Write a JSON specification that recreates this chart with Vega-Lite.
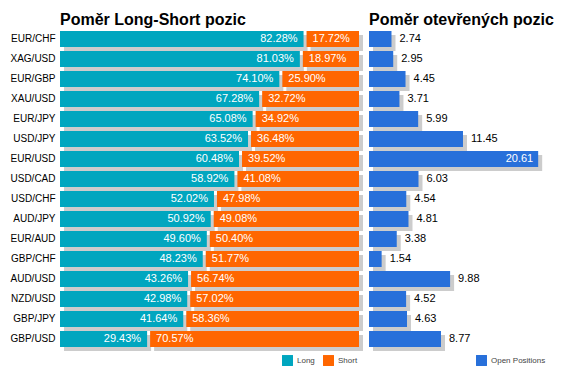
{
  "$schema": "https://vega.github.io/schema/vega-lite/v6.json",
  "padding": {"left": 9, "top": 12, "right": 0, "bottom": 0},
  "background": "white",
  "config": {
    "view": {"stroke": null},
    "font": "Liberation Sans",
    "title": {"font": "Liberation Sans", "fontSize": 16, "fontWeight": "bold", "anchor": "start", "frame": "group", "color": "#000000", "offset": 1},
    "legend": {"labelFont": "Liberation Sans", "labelFontSize": 8, "labelColor": "#444444", "symbolType": "square", "symbolSize": 120, "symbolStrokeWidth": 0, "symbolOpacity": 1, "columnPadding": 8, "direction": "horizontal", "orient": "none"}
  },
  "datasets": {
    "fx": [
      {"pair": "EUR/CHF", "long": 0.8228, "short": 0.1772, "open": 2.74},
      {"pair": "XAG/USD", "long": 0.8103, "short": 0.1897, "open": 2.95},
      {"pair": "EUR/GBP", "long": 0.7410, "short": 0.2590, "open": 4.45},
      {"pair": "XAU/USD", "long": 0.6728, "short": 0.3272, "open": 3.71},
      {"pair": "EUR/JPY", "long": 0.6508, "short": 0.3492, "open": 5.99},
      {"pair": "USD/JPY", "long": 0.6352, "short": 0.3648, "open": 11.45},
      {"pair": "EUR/USD", "long": 0.6048, "short": 0.3952, "open": 20.61},
      {"pair": "USD/CAD", "long": 0.5892, "short": 0.4108, "open": 6.03},
      {"pair": "USD/CHF", "long": 0.5202, "short": 0.4798, "open": 4.54},
      {"pair": "AUD/JPY", "long": 0.5092, "short": 0.4908, "open": 4.81},
      {"pair": "EUR/AUD", "long": 0.4960, "short": 0.5040, "open": 3.38},
      {"pair": "GBP/CHF", "long": 0.4823, "short": 0.5177, "open": 1.54},
      {"pair": "AUD/USD", "long": 0.4326, "short": 0.5674, "open": 9.88},
      {"pair": "NZD/USD", "long": 0.4298, "short": 0.5702, "open": 4.52},
      {"pair": "GBP/JPY", "long": 0.4164, "short": 0.5836, "open": 4.63},
      {"pair": "GBP/USD", "long": 0.2943, "short": 0.7057, "open": 8.77}
    ]
  },
  "spacing": 6,
  "resolve": {"scale": {"color": "independent", "x": "independent"}},
  "hconcat": [
    {
      "width": 296,
      "height": 320,
      "title": "Poměr Long-Short pozic",
      "data": {"name": "fx"},
      "encoding": {
        "y": {"field": "pair", "type": "nominal", "sort": null,
          "scale": {"paddingInner": 0.2, "paddingOuter": 0.1},
          "axis": {"title": null, "domain": false, "ticks": false, "labelFontSize": 10, "labelColor": "#000000", "labelPadding": 5}}
      },
      "layer": [
        {"mark": {"type": "bar", "color": "#cccccc", "xOffset": 4, "x2Offset": 4, "yOffset": 4, "y2Offset": 4},
         "encoding": {"x": {"field": "long", "type": "quantitative", "scale": {"domain": [0, 1], "nice": false}, "axis": null}}},
        {"mark": {"type": "bar", "color": "#cccccc", "xOffset": 7, "x2Offset": 7, "yOffset": 4, "y2Offset": 4},
         "encoding": {"x": {"field": "long", "type": "quantitative"}, "x2": {"datum": 1}}},
        {"mark": {"type": "bar"},
         "encoding": {"x": {"field": "long", "type": "quantitative"},
           "color": {"datum": "Long", "type": "nominal", "scale": {"domain": ["Long", "Short"], "range": ["#00A6BF", "#FF6600"]},
             "legend": {"title": null, "legendX": 222, "legendY": 326}}}},
        {"mark": {"type": "bar", "xOffset": 3, "x2Offset": 3},
         "encoding": {"x": {"field": "long", "type": "quantitative"}, "x2": {"datum": 1},
           "color": {"datum": "Short", "type": "nominal"}}},
        {"mark": {"type": "text", "align": "right", "dx": -6, "color": "white", "fontSize": 11},
         "encoding": {"x": {"field": "long", "type": "quantitative"}, "text": {"field": "long", "format": ".2%"}}},
        {"mark": {"type": "text", "align": "left", "dx": 9, "color": "white", "fontSize": 11},
         "encoding": {"x": {"field": "long", "type": "quantitative"}, "text": {"field": "short", "format": ".2%"}}}
      ]
    },
    {
      "width": 197,
      "height": 320,
      "title": "Poměr otevřených pozic",
      "data": {"name": "fx"},
      "encoding": {
        "y": {"field": "pair", "type": "nominal", "sort": null,
          "scale": {"paddingInner": 0.2, "paddingOuter": 0.1}, "axis": null}
      },
      "layer": [
        {"mark": {"type": "bar", "color": "#cccccc", "xOffset": 4, "x2Offset": 4, "yOffset": 4, "y2Offset": 4},
         "encoding": {"x": {"field": "open", "type": "quantitative", "scale": {"domain": [0, 24], "nice": false}, "axis": null}}},
        {"mark": {"type": "bar"},
         "encoding": {"x": {"field": "open", "type": "quantitative"},
           "color": {"datum": "Open Positions", "type": "nominal", "scale": {"range": ["#2870DA"]},
             "legend": {"title": null, "legendX": 107, "legendY": 326}}}},
        {"transform": [{"filter": "datum.open < 15"}],
         "mark": {"type": "text", "align": "left", "dx": 8, "color": "black", "fontSize": 11},
         "encoding": {"x": {"field": "open", "type": "quantitative"}, "text": {"field": "open", "format": ".2f"}}},
        {"transform": [{"filter": "datum.open >= 15"}],
         "mark": {"type": "text", "align": "right", "dx": -5, "color": "white", "fontSize": 11},
         "encoding": {"x": {"field": "open", "type": "quantitative"}, "text": {"field": "open", "format": ".2f"}}}
      ]
    }
  ]
}
